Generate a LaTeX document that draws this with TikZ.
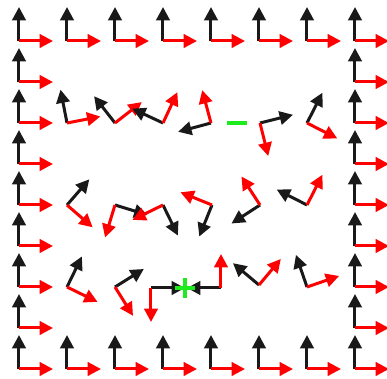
\documentclass[tikz,border=0pt]{standalone}
\usetikzlibrary{calc,arrows.meta}

\definecolor{axblack}{RGB}{25,25,25}
\definecolor{axred}{RGB}{255,0,0}
\definecolor{mark}{RGB}{30,235,30}

\tikzset{
    yaxis/.style={draw=axblack, line width=2.25pt, -{Triangle[length=10pt,width=10pt]}},
    xaxis/.style={draw=axred, line width=2.25pt, -{Triangle[length=10pt,width=10pt]}},
    signmark/.style={draw=mark, line width=3.5pt}
}

% one frame: origin name, angle
\newcommand{\frameaxes}[2]{
    \draw [yaxis] (#1) -- ++({#2+90}:34);
    \draw [xaxis] (#1) -- ++(#2:34);
}

\begin{document}
\begin{tikzpicture}[x=0.75pt, y=0.75pt]
            \useasboundingbox (0,0) rectangle (387,379);
            \clip (0,0) rectangle (387,379);

            % frames round the border
            \foreach \c in {0,...,7}
                {
                    \coordinate (T\c) at ({19+48*\c},338);
                    \coordinate (B\c) at ({19+48*\c},10);
                    \frameaxes{T\c}{0}
                    \frameaxes{B\c}{0}
                }
            \foreach \r in {1,...,7}
                {
                    \coordinate (L\r) at (19,{10+41*\r});
                    \coordinate (R\r) at (355,{10+41*\r});
                    \frameaxes{L\r}{0}
                    \frameaxes{R\r}{0}
                }

            % rotated frames inside
            \foreach \n/\x/\y/\a in {a1/67/256/11, a2/115/256/38, a3/163/256/65,
                                     a4/211/256/105, a5/260/256/-76, a6/307/256/-27,
                                     b1/67/174/-41, b2/115/174/-107, b3/163/174/-154,
                                     b4/212/174/158, b5/260/174/123, b6/307/174/63,
                                     c1/67/92/-26, c2/115/92/-58, c3/151/91/-90,
                                     c4/221/91/90, c5/259/94/50, c6/307/92/19}
                {
                    \coordinate (\n) at (\x,\y);
                    \frameaxes{\n}{\a}
                }

            % the two marks
            \coordinate (minus) at (237,256);
            \coordinate (plus) at (185,91);
            \draw [signmark] ($(minus) + (-10,0)$) -- ($(minus) + (10,0)$);
            \draw [signmark] ($(plus) + (-10,0)$) -- ($(plus) + (10,0)$);
            \draw [signmark] ($(plus) + (0,-10)$) -- ($(plus) + (0,10)$);

        \end{tikzpicture}
\end{document}
